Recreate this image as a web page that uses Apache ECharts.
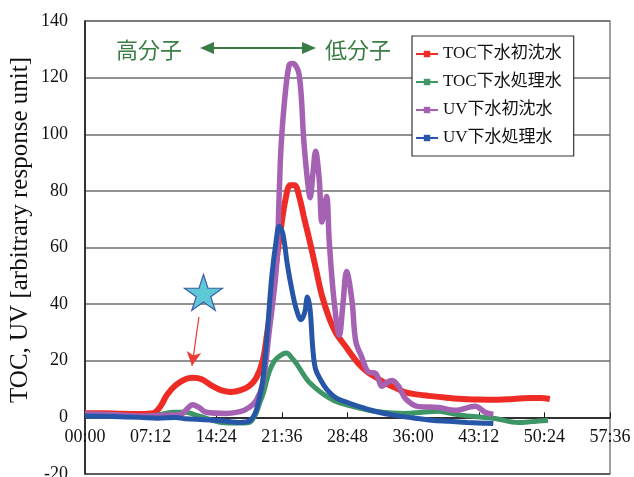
<!DOCTYPE html>
<html>
<head>
<meta charset="utf-8">
<script src="https://cdn.jsdelivr.net/npm/echarts@6/dist/echarts.min.js"></script>
<style>html,body{margin:0;padding:0;background:#fff}#c{width:634px;height:477px}</style>
</head>
<body>
<div id="c"></div>
<script>
// hours / values
const redX = [0,2,4,6,7.5,8.3,9,10,11,11.8,12.8,14,15,16,17,18,18.8,19.5,20,20.5,21,21.5,22,22.5,23,23.5,24,24.6,25.3,26,26.8,27.5,28.6,30,31,32,33,34,35,36,37.7,39.5,41,43.2,45,47,49,50,51];
const redY = [1.5,1.5,1.3,1.2,1.5,4,8,11.5,13.5,14,13.5,11,9.5,9,9.5,11,14,20,30,42,55,67,77,82,82,78,71,63,53,43,35,30,25,19,16,14,12,10.5,9,8.3,7.6,7,6.6,6.3,6.2,6.5,6.8,6.8,6.5];

const greenX = [0,3,6,8,9.6,11,12,13.5,15,16.5,18,18.7,19.1,19.6,20.2,20.8,21.5,22.1,22.7,23.2,24,24.6,26,27.3,28.6,30.5,32.2,35,37,38.8,40,41.3,43,45,47.5,49,50.8];
const greenY = [0.5,0.5,0.3,0.8,1.8,1.8,1,-0.5,-1.8,-2,-1.8,1,4.5,9,16,20,22,22.7,21,19,15,12.4,8.5,6,4.5,3,2,1.4,1.8,2.2,1.5,0.8,0.2,-0.4,-1.8,-1.5,-1];

const purpleX = [0,3,6,9,10.5,11.2,11.8,12.5,13.3,15.5,17,18,18.8,19.5,20.2,21,21.3,21.5,21.9,22.4,22.8,23.5,24,24.4,24.7,25,25.3,25.7,26,26.5,26.8,27.3,27.9,28.3,28.7,29.3,29.7,30.4,31.1,31.9,32.6,33.2,33.7,34.4,35.2,36.6,38.8,40.6,42.8,43.9,44.8];
const purpleY = [1.2,1,0.5,0.8,1,3,4.5,3.5,1.8,1.4,2,3.5,6,12,30,53,78,95,112,124.5,125,121,98,84,77.6,86,94,84,69,78,62,42,29,40,51.5,41,27,21,16,15.5,11,12.5,13,11,6.5,3.8,3.5,2.5,3.9,1.8,1];

const blueX = [0,3,6,8,10,11,13,15,17,18,18.6,19,19.5,20,20.5,21,21.3,21.7,22.2,22.7,23.2,23.7,24.1,24.4,24.7,25,25.3,25.9,26.5,27.5,29,30.4,32,34,36,38,40,42,44.8];
const blueY = [0.5,0.3,0,-0.3,0,-0.5,-0.8,-1.2,-1.8,-1.3,1,5,13,30,50,63,67.5,65,54,45,38,34.5,37,42.5,38,24,17,13,10,7,5,3.5,2,0.7,-0.2,-1,-1.4,-1.8,-2.2];

const seriesNames = ['TOC下水初沈水','TOC下水処理水','UV下水初沈水','UV下水処理水'];
const yTitle = 'TOC, UV [arbitrary response unit]';
const highLabel = '高分子';
const lowLabel = '低分子';
const starPoint = [13.0, 44.1];
const arrowFrom = [12.5, 35.5];
const arrowTo = [11.74, 18.2];
const yMin = -20, yMax = 140;

function zip(xs, ys){ return xs.map((x,i)=>[x, ys[i]]); }
function fmt(v){ const m = Math.round(v*60); const h = Math.floor(m/60), mm = m%60; return String(h).padStart(2,'0')+':'+String(mm).padStart(2,'0'); }

const serif = '"Liberation Serif","Noto Sans CJK JP",serif';
const chart = echarts.init(document.getElementById('c'));
const starPath = 'path://M0,-100 L22.45,-30.9 L95.1,-30.9 L36.3,11.8 L58.8,80.9 L0,38.2 L-58.8,80.9 L-36.3,11.8 L-95.1,-30.9 L-22.45,-30.9 Z';

const gridTop = 21, gridBottom = 3, H = 477;
const plotH = H - gridTop - gridBottom;
const zeroOffset = -(0 - yMin) / (yMax - yMin) * plotH;

function mk(name, xs, ys, color, w, z){
  return {
    name, type:'line', data: zip(xs, ys), smooth: 0.35, showSymbol:false,
    symbol:'rect', symbolSize:6, z,
    itemStyle:{color: color, borderColor: color},
    lineStyle:{color: color, width: w},
    emphasis:{disabled:true}, animation:false
  };
}
const sRed = mk(seriesNames[0], redX, redY, '#ee2b24', 6, 2);
sRed.markPoint = {
  silent:true, animation:false,
  data:[{coord: starPoint, symbol: starPath, symbolSize:[38,36],
    itemStyle:{color:'#5ec8d6', borderColor:'#3d5fa6', borderWidth:1.2}, label:{show:false}}]
};
sRed.markLine = {
  silent:true, animation:false, symbol:['none','arrow'], symbolSize:[11,14],
  lineStyle:{color:'#ec3b35', width:1.2, type:'solid'}, label:{show:false},
  data:[[{coord: arrowFrom},{coord: arrowTo}]]
};
const sGreen = mk(seriesNames[1], greenX, greenY, '#3e9566', 5, 3);
const sPurple = mk(seriesNames[2], purpleX, purpleY, '#a562b3', 5.5, 4);
const sBlue = mk(seriesNames[3], blueX, blueY, '#2756a8', 5, 5);

chart.setOption({
  backgroundColor:'#fff',
  animation:false,
  grid:{left:85, right:24, top:gridTop, bottom:gridBottom, show:true, borderColor:'#808080', borderWidth:1.5, backgroundColor:'transparent', outerBoundsMode:'none', containLabel:false},
  xAxis:{
    type:'value', min:0, max:57.6, interval:7.2, position:'bottom', offset: zeroOffset,
    axisLine:{show:true, onZero:false, lineStyle:{color:'#111', width:1.5}},
    axisTick:{show:true, inside:true, length:5, lineStyle:{color:'#111'}},
    splitLine:{show:false},
    axisLabel:{formatter: fmt, fontFamily: serif, fontSize:18, color:'#111', margin:11, showMaxLabel:true, showMinLabel:true}
  },
  yAxis:{
    type:'value', min:yMin, max:yMax, interval:20,
    axisLine:{show:true, onZero:false, lineStyle:{color:'#111', width:1.5}},
    axisTick:{show:false},
    splitLine:{show:true, lineStyle:{color:'#6e6e6e', width:1.5}},
    axisLabel:{fontFamily: serif, fontSize:18, color:'#111', margin:17}
  },
  legend:{
    orient:'vertical', left:412, top:36, width:150,
    backgroundColor:'#fff', borderColor:'#333', borderWidth:1.2,
    padding:[8,12,8,3], itemGap:8, itemWidth:22, itemHeight:8,
    textStyle:{fontFamily: serif, fontSize:17, color:'#111', lineHeight:20},
    data: seriesNames
  },
  graphic:[
    {type:'text', x:20, y:230, rotation:Math.PI/2, style:{text:yTitle, font:'25px "Liberation Serif"', fill:'#111', align:'center', verticalAlign:'middle'}},
    {type:'text', x:149, y:50, style:{text:highLabel, font:'22px "Noto Sans CJK JP"', fill:'#3a7d44', align:'center', verticalAlign:'middle'}},
    {type:'text', x:358, y:50, style:{text:lowLabel, font:'22px "Noto Sans CJK JP"', fill:'#3a7d44', align:'center', verticalAlign:'middle'}},
    {type:'line', shape:{x1:212, y1:48, x2:304, y2:48}, style:{stroke:'#3a7d44', lineWidth:2}},
    {type:'polygon', shape:{points:[[200,48],[214,42],[214,54]]}, style:{fill:'#3a7d44'}},
    {type:'polygon', shape:{points:[[316,48],[302,42],[302,54]]}, style:{fill:'#3a7d44'}},
    {type:'line', shape:{x1:85, y1:H-gridBottom, x2:634-24, y2:H-gridBottom}, style:{stroke:'#111', lineWidth:1.5}}
  ],
  series:[sRed, sGreen, sPurple, sBlue]
});
</script>
</body>
</html>
